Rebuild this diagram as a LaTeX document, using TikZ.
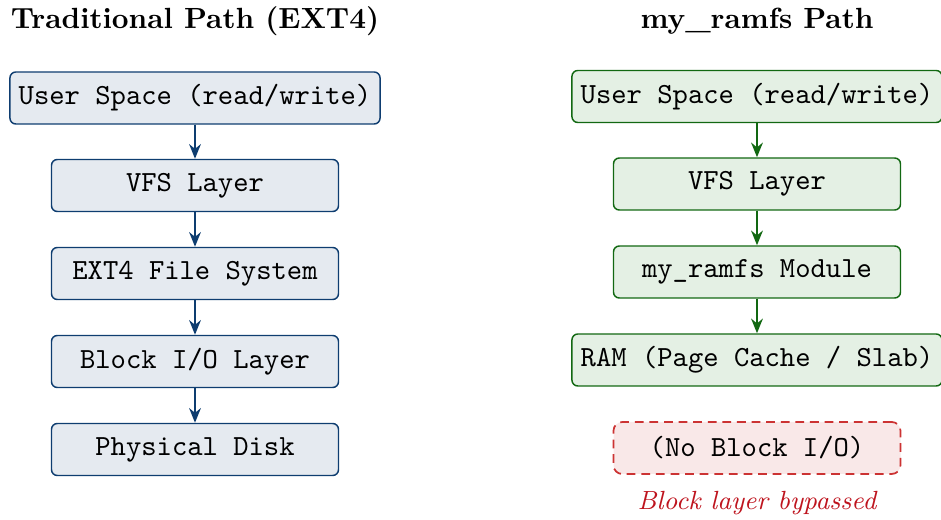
\documentclass[tikz,border=0pt]{standalone}
\usetikzlibrary{arrows.meta}
\definecolor{bluefill}{RGB}{229,234,240}
\definecolor{blueline}{RGB}{14,61,112}
\definecolor{greenfill}{RGB}{228,240,228}
\definecolor{greenline}{RGB}{18,104,18}
\definecolor{redfill}{RGB}{249,232,232}
\definecolor{redline}{RGB}{204,51,51}
\definecolor{redtext}{RGB}{190,20,30}
\begin{document}
\begin{tikzpicture}[x=0.3425pt,y=-0.3425pt,
  box/.style={draw, rounded corners=2pt, line width=0.5pt, font=\ttfamily,
    minimum height={52*0.3425pt}, inner xsep=3pt},
  narrowbox/.style={box, minimum width={287*0.3425pt}},
  leftbox/.style={fill=bluefill, draw=blueline},
  rightbox/.style={fill=greenfill, draw=greenline},
  nobox/.style={box, minimum width={287*0.3425pt}, fill=redfill, draw=redline,
    dash pattern=on 3pt off 2pt, line width=0.6pt, rounded corners=3pt},
  larrow/.style={-{Stealth[length=5pt,width=4pt]}, draw=blueline, fill=blueline, line width=0.8pt},
  rarrow/.style={-{Stealth[length=5pt,width=4pt]}, draw=greenline, fill=greenline, line width=0.8pt},
  title/.style={font=\bfseries}
]
\useasboundingbox (0,0) rectangle (941,520);
\node[title] (tl) at (195,21) {Traditional Path (EXT4)};
\node[title] (tr) at (757,21) {my\_ramfs Path};

\node[box, leftbox] (l1) at (195,98) {User Space (read/write)};
\node[narrowbox, leftbox] (l2) at (195,185.5) {VFS Layer};
\node[narrowbox, leftbox] (l3) at (195,273.5) {EXT4 File System};
\node[narrowbox, leftbox] (l4) at (195,361.5) {Block I/O Layer};
\node[narrowbox, leftbox] (l5) at (195,449.5) {Physical Disk};
\draw[larrow] (l1) -- (l2);
\draw[larrow] (l2) -- (l3);
\draw[larrow] (l3) -- (l4);
\draw[larrow] (l4) -- (l5);

\node[box, rightbox] (r1) at (757,96.5) {User Space (read/write)};
\node[narrowbox, rightbox] (r2) at (757,184) {VFS Layer};
\node[narrowbox, rightbox] (r3) at (757,272) {my\_ramfs Module};
\node[box, rightbox] (r4) at (757,360) {RAM (Page Cache / Slab)};
\draw[rarrow] (r1) -- (r2);
\draw[rarrow] (r2) -- (r3);
\draw[rarrow] (r3) -- (r4);

\node[nobox] (r5) at (757,448) {(No Block I/O)};
\node[font=\small\itshape, text=redtext] (note) at (757,503) {Block layer bypassed};
\end{tikzpicture}
\end{document}
